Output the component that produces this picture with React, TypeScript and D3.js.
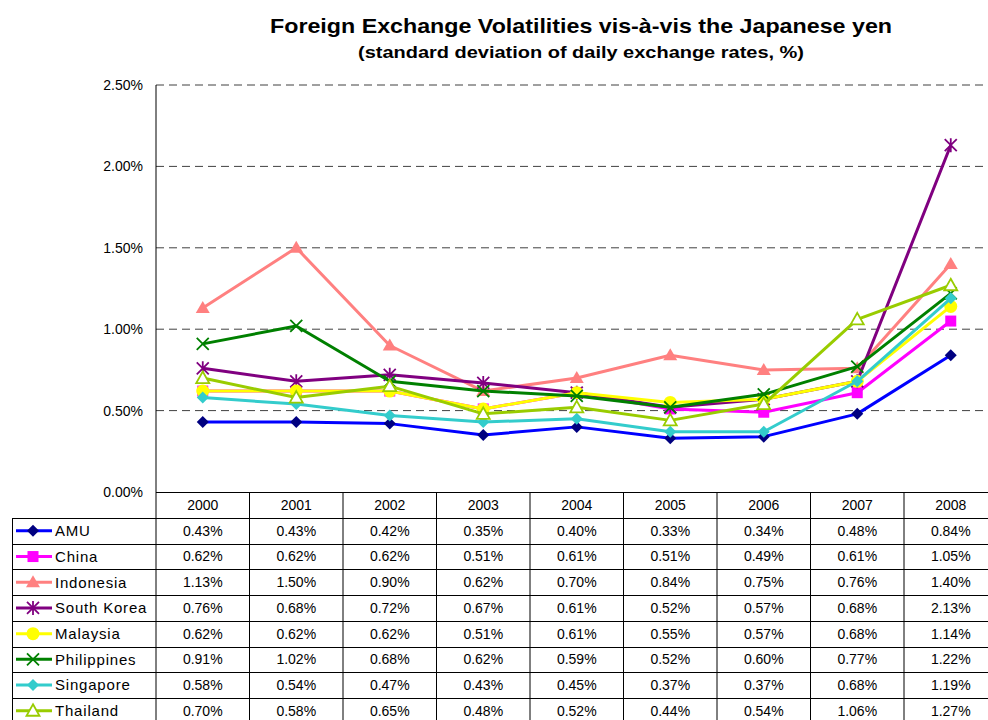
import React, { ReactElement, useEffect, useRef } from "react";
import * as d3 from "d3";

const years = ["2000", "2001", "2002", "2003", "2004", "2005", "2006", "2007", "2008"];
const seriesNames = ["AMU", "China", "Indonesia", "South Korea", "Malaysia", "Philippines", "Singapore", "Thailand"];
const amu = [0.43, 0.43, 0.42, 0.35, 0.4, 0.33, 0.34, 0.48, 0.84];
const china = [0.62, 0.62, 0.62, 0.51, 0.61, 0.51, 0.49, 0.61, 1.05];
const indonesia = [1.13, 1.5, 0.9, 0.62, 0.7, 0.84, 0.75, 0.76, 1.4];
const southKorea = [0.76, 0.68, 0.72, 0.67, 0.61, 0.52, 0.57, 0.68, 2.13];
const malaysia = [0.62, 0.62, 0.62, 0.51, 0.61, 0.55, 0.57, 0.68, 1.14];
const philippines = [0.91, 1.02, 0.68, 0.62, 0.59, 0.52, 0.6, 0.77, 1.22];
const singapore = [0.58, 0.54, 0.47, 0.43, 0.45, 0.37, 0.37, 0.68, 1.19];
const thailand = [0.7, 0.58, 0.65, 0.48, 0.52, 0.44, 0.54, 1.06, 1.27];
const yTicks = [0, 0.5, 1.0, 1.5, 2.0, 2.5];

const allValues = [amu, china, indonesia, southKorea, malaysia, philippines, singapore, thailand];

interface Style {
  line: string;
  marker: string;
  shape: string;
}

const styles: Style[] = [
  { line: "#0000FF", marker: "#000080", shape: "diamond" },
  { line: "#FF00FF", marker: "#FF00FF", shape: "square" },
  { line: "#FF8080", marker: "#FF8080", shape: "triangle" },
  { line: "#800080", marker: "#800080", shape: "star" },
  { line: "#FFFF00", marker: "#FFFF00", shape: "circle" },
  { line: "#008000", marker: "#008000", shape: "x" },
  { line: "#33CCCC", marker: "#33CCCC", shape: "diamond" },
  { line: "#99CC00", marker: "#99CC00", shape: "hollowTriangle" },
];

const font = "'Liberation Sans', Arial, sans-serif";

function drawMarker(g: d3.Selection<SVGGElement, unknown, null, undefined>, x: number, y: number, s: Style) {
  const m = g.append("g").attr("transform", `translate(${x},${y})`);
  if (s.shape === "diamond") {
    m.append("path").attr("d", "M0,-6L6,0L0,6L-6,0Z").attr("fill", s.marker);
  } else if (s.shape === "square") {
    m.append("rect").attr("x", -5.5).attr("y", -5.5).attr("width", 11).attr("height", 11).attr("fill", s.marker);
  } else if (s.shape === "triangle") {
    m.append("path").attr("d", "M0,-7L7,5L-7,5Z").attr("fill", s.marker);
  } else if (s.shape === "hollowTriangle") {
    m.append("path").attr("d", "M0,-6.5L6.5,5L-6.5,5Z").attr("fill", "#fff").attr("stroke", s.marker).attr("stroke-width", 1.8);
  } else if (s.shape === "circle") {
    m.append("circle").attr("r", 6.5).attr("fill", s.marker);
  } else if (s.shape === "x") {
    m.append("path").attr("d", "M-6,-6L6,6M-6,6L6,-6").attr("stroke", s.marker).attr("stroke-width", 1.8);
  } else if (s.shape === "star") {
    m.append("path").attr("d", "M-6,-6L6,6M-6,6L6,-6M0,-7L0,7").attr("stroke", s.marker).attr("stroke-width", 1.8);
  }
}

function App(): ReactElement {
  const ref = useRef<SVGSVGElement>(null);

  useEffect(() => {
    const svg = d3.select(ref.current);
    svg.selectAll("*").remove();

    const left = 156;
    const step = 93.5;
    const x = d3.scaleBand().domain(years).range([left, left + step * years.length]);
    const y = d3.scaleLinear().domain([0, 2.5]).range([492, 85]);
    const rowY = d3.scaleBand().domain(seriesNames).range([518, 518 + 25.7 * seriesNames.length]);
    const right = left + step * years.length;

    // titles
    svg.append("text")
      .attr("x", 581).attr("y", 33).attr("text-anchor", "middle")
      .attr("font-family", font).attr("font-weight", "bold").attr("font-size", 21)
      .attr("textLength", 622).attr("lengthAdjust", "spacingAndGlyphs")
      .text("Foreign Exchange Volatilities vis-à-vis the Japanese yen");
    svg.append("text")
      .attr("x", 581).attr("y", 58).attr("text-anchor", "middle")
      .attr("font-family", font).attr("font-weight", "bold").attr("font-size", 16)
      .attr("textLength", 446).attr("lengthAdjust", "spacingAndGlyphs")
      .text("(standard deviation of daily exchange rates, %)");

    // grid
    const plot = svg.append("g");
    plot.selectAll(".grid")
      .data(yTicks.filter((t) => t > 0))
      .enter()
      .append("line")
      .attr("x1", left).attr("x2", right)
      .attr("y1", (d) => y(d)).attr("y2", (d) => y(d))
      .attr("stroke", "#404040").attr("stroke-dasharray", "8,5");

    plot.selectAll(".ytick")
      .data(yTicks)
      .enter()
      .append("text")
      .attr("x", 143).attr("y", (d) => y(d)).attr("dy", "0.35em")
      .attr("text-anchor", "end")
      .attr("font-family", font).attr("font-size", 14)
      .text((d) => d.toFixed(2) + "%");

    // table
    const table = svg.append("g").attr("stroke", "#000").attr("stroke-width", 1);
    table.append("line").attr("x1", left).attr("x2", left).attr("y1", 85).attr("y2", 720);
    table.append("line").attr("x1", left).attr("x2", right).attr("y1", 492.5).attr("y2", 492.5);
    years.forEach((yr) => {
      const xe = (x(yr) as number) + x.bandwidth();
      table.append("line").attr("x1", xe).attr("x2", xe).attr("y1", 492).attr("y2", 720);
    });
    table.append("line").attr("x1", 12.5).attr("x2", 12.5).attr("y1", 518).attr("y2", 720);
    seriesNames.forEach((n) => {
      const yy = Math.round(rowY(n) as number) + 0.5;
      table.append("line").attr("x1", 12).attr("x2", right).attr("y1", yy).attr("y2", yy);
    });

    const txt = svg.append("g").attr("font-family", font).attr("font-size", 14).attr("fill", "#000");
    years.forEach((yr) => {
      txt.append("text")
        .attr("x", (x(yr) as number) + x.bandwidth() / 2).attr("y", 505).attr("dy", "0.35em")
        .attr("text-anchor", "middle").text(yr);
    });
    seriesNames.forEach((n, i) => {
      const cy = (rowY(n) as number) + rowY.bandwidth() / 2;
      years.forEach((yr, j) => {
        txt.append("text")
          .attr("x", (x(yr) as number) + x.bandwidth() / 2).attr("y", cy).attr("dy", "0.35em")
          .attr("text-anchor", "middle").text(allValues[i][j].toFixed(2) + "%");
      });
      txt.append("text")
        .attr("x", 55).attr("y", cy).attr("dy", "0.35em")
        .attr("font-size", 15).attr("letter-spacing", 0.8).text(n);
      const lg = svg.append("g");
      lg.append("line").attr("x1", 16).attr("x2", 52).attr("y1", cy).attr("y2", cy)
        .attr("stroke", styles[i].line).attr("stroke-width", 3);
      drawMarker(lg as any, 33, cy, styles[i]);
    });

    // series
    const line = d3.line<number>()
      .x((_, j) => (x(years[j]) as number) + x.bandwidth() / 2)
      .y((d) => y(d));
    allValues.forEach((vals, i) => {
      const g = svg.append("g");
      g.append("path").attr("d", line(vals)).attr("fill", "none")
        .attr("stroke", styles[i].line).attr("stroke-width", 3).attr("stroke-linejoin", "round");
      vals.forEach((v, j) => {
        drawMarker(g as any, (x(years[j]) as number) + x.bandwidth() / 2, y(v), styles[i]);
      });
    });
  }, []);

  return (
    <div>
      <svg ref={ref} width={988} height={720} style={{ position: "absolute", left: 0, top: 0, background: "#fff" }}></svg>
    </div>
  );
}

export default App;
